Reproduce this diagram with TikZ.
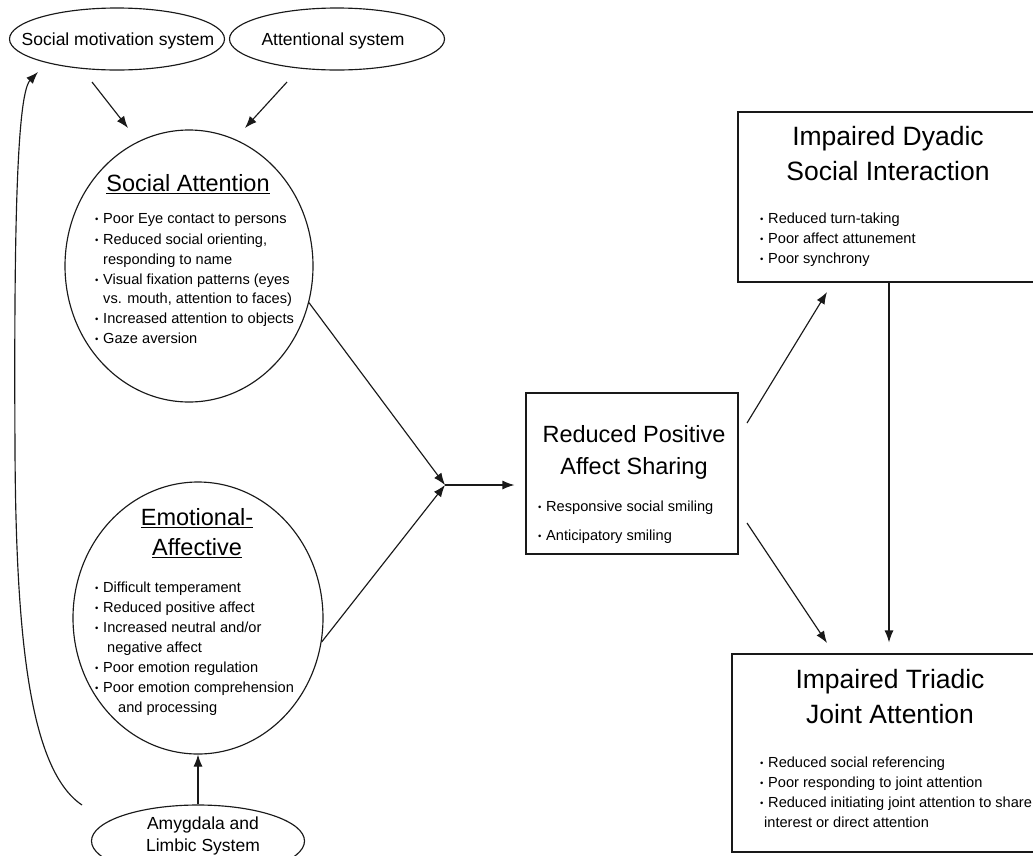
\documentclass[tikz,border=0pt]{standalone}
\usepackage{fontspec}
\setmainfont{Liberation Sans}
\usetikzlibrary{shapes.geometric,arrows.meta}
\newcommand\bu{\makebox[8pt][l]{\fontsize{9.5}{9.5}\selectfont\raisebox{0.9pt}{•}}}
\tikzset{
  ln/.style={line width=1.15pt,draw=black!90},
  arr/.style={ln,-{Latex[length=12pt,width=9pt]}},
  ell/.style={ellipse,ln,inner sep=0pt},
  boxn/.style={rectangle,ln,inner sep=0pt},
  ttl/.style={anchor=mid,inner sep=0pt,font=\fontsize{23.5}{28}\selectfont},
  bigttl/.style={anchor=mid,inner sep=0pt,font=\fontsize{26.5}{32}\selectfont},
  itm/.style={anchor=mid west,inner sep=0pt,font=\fontsize{14.6}{18}\selectfont},
  eltx/.style={anchor=mid,inner sep=0pt,font=\fontsize{17.5}{21}\selectfont}
}
\begin{document}
\begin{tikzpicture}[x=1pt,y=-1pt]
\useasboundingbox (0,0) rectangle (1033,855);
\clip (0,0) rectangle (1033,855);
% top ellipses
\node[ell,minimum width=215pt,minimum height=62pt] (smot) at (117,39) {};
\node[eltx] (smott) at (118,43) {Social motivation system};
\node[ell,minimum width=215pt,minimum height=62pt] (att) at (337,39) {};
\node[eltx] (attt) at (333,43) {Attentional system};
% social attention
\node[ell,minimum width=248pt,minimum height=272pt] (sa) at (189,266) {};
\node[ttl] (sat) at (188,189) {\underline{Social Attention}};
\node[itm] (s1) at (95,221) {\bu Poor Eye contact to persons};
\node[itm] (s2) at (95,242) {\bu Reduced social orienting,};
\node[itm] (s3) at (103,262) {responding to name};
\node[itm] (s4) at (95,282) {\bu Visual fixation patterns (eyes};
\node[itm] (s5) at (103,301) {vs. mouth, attention to faces)};
\node[itm] (s6) at (95,321) {\bu Increased attention to objects};
\node[itm] (s7) at (95,341) {\bu Gaze aversion};
% emotional-affective
\node[ell,minimum width=250pt,minimum height=272pt] (ea) at (198,618) {};
\node[ttl] (eat1) at (197,523) {\underline{Emotional-}};
\node[ttl] (eat2) at (197,553) {\underline{Affective}};
\node[itm] (e1) at (95,590) {\bu Difficult temperament};
\node[itm] (e2) at (95,610) {\bu Reduced positive affect};
\node[itm] (e3) at (95,630) {\bu Increased neutral and/or};
\node[itm] (e4) at (107,650) {negative affect};
\node[itm] (e5) at (95,670) {\bu Poor emotion regulation};
\node[itm] (e6) at (95,690) {\bu Poor emotion comprehension};
\node[itm] (e7) at (118,710) {and processing};
% amygdala
\node[ell,minimum width=213pt,minimum height=72pt] (amyg) at (198,841) {};
\node[eltx] (amyt1) at (203,827) {Amygdala and};
\node[eltx] (amyt2) at (203,849) {Limbic System};
% reduced positive affect sharing
\node[boxn,minimum width=212pt,minimum height=161pt] (rpas) at (632,473.5) {};
\node[ttl] (rpt1) at (634,440) {Reduced Positive};
\node[ttl] (rpt2) at (634,472) {Affect Sharing};
\node[itm] (r1) at (538,509) {\bu Responsive social smiling};
\node[itm] (r2) at (538,538) {\bu Anticipatory smiling};
% dyadic
\node[boxn,minimum width=320pt,minimum height=170pt] (dy) at (898,197) {};
\node[bigttl] (dyt1) at (888,143) {Impaired Dyadic};
\node[bigttl] (dyt2) at (888,178) {Social Interaction};
\node[itm] (d1) at (760,221) {\bu Reduced turn-taking};
\node[itm] (d2) at (760,241) {\bu Poor affect attunement};
\node[itm] (d3) at (760,261) {\bu Poor synchrony};
% triadic
\node[boxn,minimum width=326pt,minimum height=198pt] (tr) at (895,753) {};
\node[bigttl] (trt1) at (890,686) {Impaired Triadic};
\node[bigttl] (trt2) at (890,721) {Joint Attention};
\node[itm] (t1) at (760,765) {\bu Reduced social referencing};
\node[itm] (t2) at (760,785) {\bu Poor responding to joint attention};
\node[itm] (t3) at (760,805) {\bu Reduced initiating joint attention to share};
\node[itm] (t4) at (764,825) {interest or direct attention};
% connector end points
\coordinate (a1) at (92,82);  \coordinate (a2) at (128,128);
\coordinate (a3) at (287,82); \coordinate (a4) at (245,128);
\coordinate (j) at (445,485);
\coordinate (vx) at (889,0);
\coordinate (u1) at (747,423); \coordinate (u2) at (827,292);
\coordinate (l1) at (747,523); \coordinate (l2) at (827,643);
\coordinate (c0) at (82,805); \coordinate (c1) at (38,72);
% connectors
\draw[arr] (a1) -- (a2);
\draw[arr] (a3) -- (a4);
\draw[arr] (sa.-17) -- (j);
\draw[arr] (ea.-11) -- (j);
\draw[arr,shorten >=11pt] (j) -- (j -| rpas.west);
\draw[arr] (u1) -- (u2);
\draw[arr] (l1) -- (l2);
\draw[arr,shorten >=11pt] (dy.south -| vx) -- (tr.north -| vx);
\draw[arr] (amyg.north) -- (ea.south);
\draw[arr] (c0) .. controls (30,770) and (16,640) .. (15,450)
               .. controls (14,250) and (16,95) .. (c1);
\end{tikzpicture}
\end{document}
